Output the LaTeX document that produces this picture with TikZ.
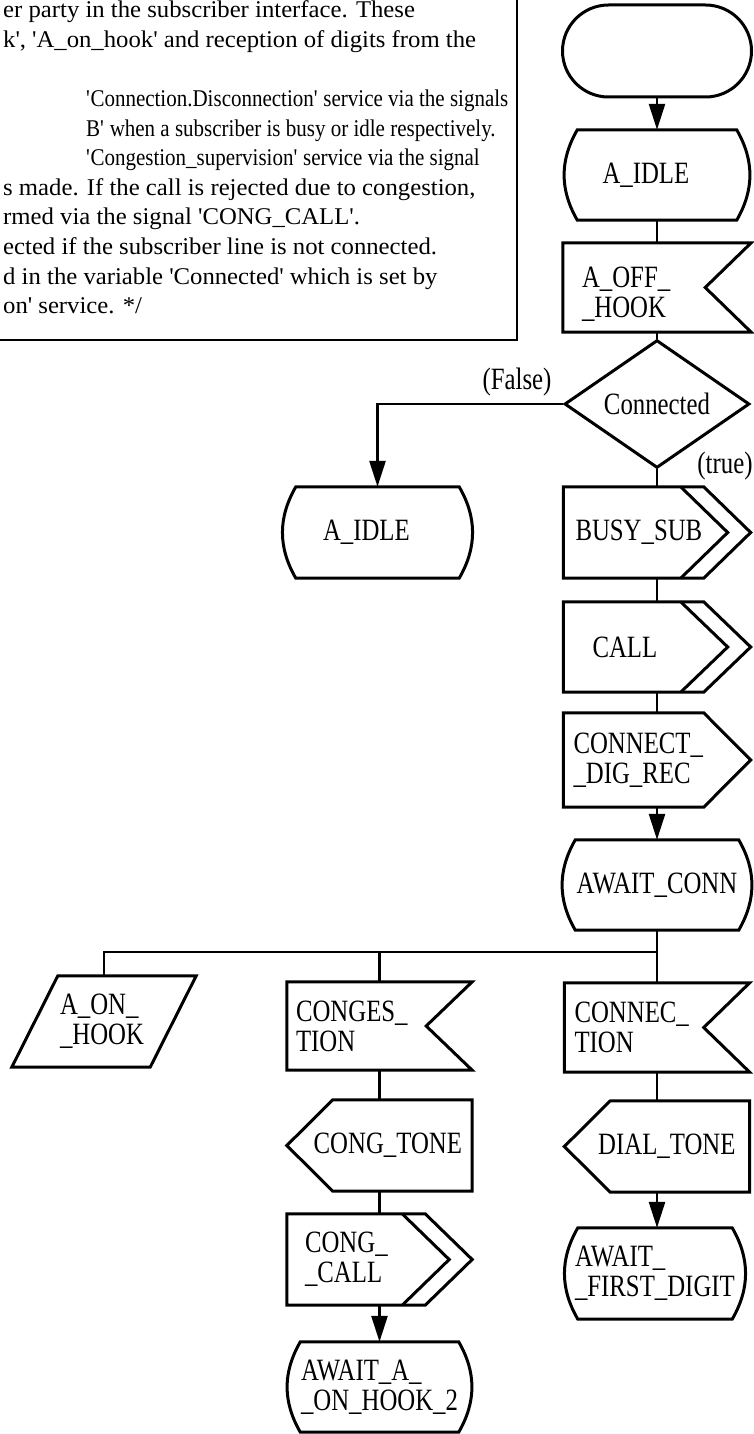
\documentclass[tikz,border=0pt]{standalone}
\usepackage{fontspec}
\usetikzlibrary{arrows.meta,shapes.geometric}
\newfontfamily\sdlfont{Liberation Serif}[FakeStretch=0.8]
\newfontfamily\commentfont{Liberation Serif}[FakeStretch=1.03]
\newfontfamily\commentnarrow{Liberation Serif}[FakeStretch=0.875]
\newcommand\apos{\textquotesingle}

\begin{document}
\begin{tikzpicture}[
  x=1pt, y=-1pt,
  outline/.style={line width=3pt,line join=miter},
  flow/.style={line width=2.6pt},
  arr/.style={flow,-{Triangle[length=26pt,width=16pt]}},
  sym/.style={inner ysep=0pt,minimum height=91pt,align=left,font=\sdlfont\fontsize{31pt}{30pt}\selectfont},
  lbl/.style={inner sep=0pt,font=\sdlfont\fontsize{31pt}{30pt}\selectfont},
  terminal/.style={draw,outline,rounded corners=46pt,minimum width=189pt,minimum height=92pt},
  decision/.style={diamond,draw,outline,inner sep=0pt,minimum width=185pt,minimum height=88pt,font=\sdlfont\fontsize{31pt}{30pt}\selectfont},
  noteframe/.style={draw,line width=2pt,minimum width=560pt,minimum height=360pt},
  note/.style={inner sep=0pt,align=left,font=\commentfont\fontsize{24pt}{29.6pt}\selectfont}
]
  \useasboundingbox[fill=white] (0,0) rectangle (754,1434);

  % comment symbol
  \node[noteframe,anchor=south east] (frame) at (518,341) {};
  \node[note,anchor=north west] (notetext) at (3,0.6) {er party in the subscriber interface. These\\
    k\apos, \apos A\_on\_hook\apos{} and reception of digits from the\\
    \mbox{}\\
    \hspace*{83pt}{\commentnarrow\apos Connection.Disconnection\apos{} service via the signals}\\
    \hspace*{83pt}{\commentnarrow B\apos{} when a subscriber is busy or idle respectively.}\\
    \hspace*{83pt}{\commentnarrow\apos Congestion\_supervision\apos{} service via the signal}\\
    s made. If the call is rejected due to congestion,\\
    rmed via the signal \apos CONG\_CALL\apos.\\
    ected if the subscriber line is not connected.\\
    d in the variable \apos Connected\apos{} which is set by\\
    on\apos{} service. */};

  % main column
  \node[terminal] (start) at (657,51) {};
  \node[sym,minimum height=90pt,text width=109pt,inner xsep=38pt] (idle) at (657,175) {A\_IDLE};
  \node[sym,minimum height=89pt,text width=150pt,inner xsep=19pt] (offhook) at (657,287.5) {\rule{0pt}{34pt}A\_OFF\_\\\_HOOK};
  \node[decision] (conn) at (657,404) {Connected};
  \node[sym,text width=163pt,inner xsep=12pt] (busy) at (657,532.5) {BUSY\_SUB};
  \node[sym,minimum height=90pt,text width=129pt,inner xsep=29pt] (call) at (657,647) {CALL};
  \node[sym,minimum height=94pt,text width=167pt,inner xsep=10pt] (digrec) at (657,760) {CONNECT\_\\\_DIG\_REC};
  \node[sym,minimum height=90pt,text width=170pt,inner xsep=9.5pt,align=center] (awaitconn) at (657,885) {AWAIT\_CONN};
  \node[sym,minimum height=89pt,text width=165pt,inner xsep=10pt] (connection) at (657,1027.5) {CONNEC\_\\TION};
  \node[sym,text width=157pt,inner xsep=14pt,align=right] (dialtone) at (657,1146.5) {DIAL\_TONE};
  \node[sym,text width=160pt,inner xsep=10pt] (firstdigit) at (655,1273.5) {AWAIT\_\\\_FIRST\_DIGIT};

  % false branch
  \node[sym,text width=109pt,inner xsep=40pt] (idle2) at (377.5,532.5) {A\_IDLE};
  \node[lbl] (falselbl) at (517,382) {(False)};
  \node[lbl] (truelbl) at (725,466) {(true)};

  % await_conn alternatives
  \node[sym,text width=88pt,inner xsep=48pt] (onhook) at (104,1021.5) {A\_ON\_\\\_HOOK};
  \node[sym,minimum height=88pt,text width=167pt,inner xsep=9pt] (congestion) at (379.5,1026) {CONGES\_\\TION};
  \node[sym,text width=165pt,inner xsep=10pt,align=right] (congtone) at (379.5,1145.5) {CONG\_TONE};
  \node[sym,text width=149pt,inner xsep=18pt] (congcall) at (379.5,1259.5) {CONG\_\\\_CALL};
  \node[sym,minimum height=90pt,text width=157pt,inner xsep=13.5pt] (onhook2) at (379.5,1387) {AWAIT\_A\_\\\_ON\_HOOK\_2};
  \coordinate (fork) at (657,952);

  % state symbols
  \foreach \n in {idle,idle2,awaitconn,firstdigit,onhook2}
    \draw[outline] ([xshift=13pt]\n.north west) -- ([xshift=-13pt]\n.north east)
      to[bend left=30] ([xshift=-13pt]\n.south east) -- ([xshift=13pt]\n.south west)
      to[bend left=30] ([xshift=13pt]\n.north west) -- cycle;
  % input symbols
  \foreach \n in {offhook,connection,congestion}
    \draw[outline] (\n.north west) -- (\n.north east) -- ([xshift=-46pt]\n.east)
      -- (\n.south east) -- (\n.south west) -- cycle;
  % output symbols
  \foreach \n in {busy,call,digrec,congcall}
    \draw[outline] (\n.north west) -- ([xshift=-47pt]\n.north east) -- (\n.east)
      -- ([xshift=-47pt]\n.south east) -- (\n.south west) -- cycle;
  \foreach \n in {busy,call,congcall}
    \draw[outline] ([xshift=-70pt]\n.north east) -- ([xshift=-23pt]\n.east)
      -- ([xshift=-70pt]\n.south east);
  \foreach \n in {dialtone,congtone}
    \draw[outline] (\n.west) -- ([xshift=46pt]\n.north west) -- (\n.north east)
      -- (\n.south east) -- ([xshift=46pt]\n.south west) -- cycle;
  \draw[outline] ([xshift=46pt]onhook.north west) -- (onhook.north east)
    -- ([xshift=-46pt]onhook.south east) -- (onhook.south west) -- cycle;

  % connectors
  \draw[arr] (start) -- (idle);
  \draw[flow] (idle) -- (offhook);
  \draw[flow] (offhook) -- (conn);
  \draw[arr] (conn.west) -| (idle2.north);
  \draw[flow] (conn) -- (busy);
  \draw[flow] (busy) -- (call);
  \draw[flow] (call) -- (digrec);
  \draw[arr] (digrec) -- (awaitconn);
  \draw[flow] (awaitconn) -- (connection);
  \draw[flow] (fork) -| (onhook.north);
  \draw[flow] (congestion.north |- fork) -- (congestion.north);
  \draw[flow] (congestion) -- (congtone);
  \draw[flow] (congtone) -- (congcall);
  \draw[arr] (congcall) -- (onhook2);
  \draw[flow] (connection) -- (dialtone);
  \draw[arr] (dialtone.south) -- (dialtone.south |- firstdigit.north);
\end{tikzpicture}
\end{document}
